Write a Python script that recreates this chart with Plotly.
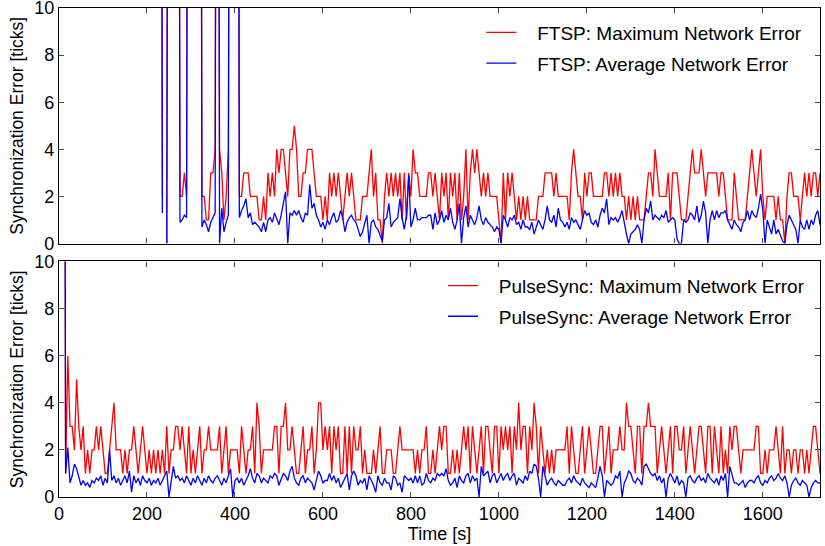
import plotly.graph_objects as go

# ---------------- data ----------------
# FTSP: samples every 5 s starting at t = 230 s (None = no data, 50 = off-scale value)
ftsp_start, ftsp_step = 230, 5
ftsp_max = [50, 2, None, 0, 50, None, None, None, 50, 2, 2, 3, 2, 50, None, None, None, None,
            50, 2, 2, 1, 1, 3, 3, 4, 50, 4, 3, 1, 2, 4, 50, None, None, 50, 2, 2, 3, 3, 3, 2,
            2, 2, 2, 1, 1, 2, 1, 3, 2, 3,
            2, 4, 3, 4, 4, 3, 2, 4, 4, 5,
            4, 2, 2, 3, 3, 4, 4, 4, 3, 2,
            2, 2, 1, 2, 1, 3, 2, 3, 2, 3,
            2, 1, 2, 3, 2, 3, 2, 1, 1, 1,
            2, 2, 2, 3, 4,
            2, 3, 1, 1, 0, 2, 3, 2, 3, 2,
            3, 2, 3, 1, 3, 1, 3, 2, 4, 3,
            3, 2, 2, 2, 2, 3, 3, 2, 3, 2,
            1, 3, 2, 3, 1, 3, 2, 3, 1, 3,
            1, 2, 4, 1, 3, 4, 3, 4, 3, 2,
            3, 2, 3, 2, 2, 2, 2, 1, 0, 3,
            1, 3, 2, 3, 2, 1, 2, 1, 2, 1,
            2, 1, 1, 1, 1, 2, 2, 2, 3, 3,
            3, 3, 2, 3, 2, 2, 2, 2, 2, 1,
            3, 4, 3, 2, 2, 1, 3, 2, 3,
            3, 2, 2, 2, 2, 2, 3, 3, 2, 3,
            2, 3, 2, 3, 2, 2, 1, 2, 1, 2,
            1, 2, 1, 1, 1, 2, 3, 3, 2, 4,
            3, 2, 2, 2, 2, 3, 1, 3, 3, 3,
            2, 1, 1, 1, 2, 3, 4, 3, 3, 3,
            4, 3, 2, 3, 3, 3, 3, 3, 2, 3,
            3, 2, 1, 1, 1, 3, 2, 1, 1, 1,
            1, 2, 3, 4, 3, 2, 3, 4, 2, 1,
            2, 2, 2, 2, 1, 2, 1, 1, 0, 2,
            3, 3, 2, 2, 2, 1, 2, 3, 2, 3,
            2, 3, 3, 2, 3]
ftsp_avg = [50, 1.3, None, 0, 50, None, None, None, 50, 0.9, 1.0, 1.2, 1.1, 50, None, None, None, None,
            50, 0.7, 1.0, 0.8, 0.5, 0.9, 1.1, 1.3, 50, 0, 1.5, 0.5, 0.9, 1.2, 50, None, None, 50, 1.1, 1.4, 1.6, 1.9, 1.1, 1.3,
            0.8, 0.9, 0.8, 0.7, 0.5, 0.9, 0.5, 1.0, 1.1, 0.9,
            1.3, 1.0, 0.8, 1.2, 1.8, 2.2, 0, 1.3, 1.2, 1.4,
            1.2, 1.4, 1.1, 0.9, 1.3, 1.2, 2.5, 1.5, 1.7, 1.2,
            1.0, 0.7, 0.9, 0.6, 1.0, 0.8, 1.1, 1.3, 0.9, 1.0,
            1.4, 1.1, 0.5, 0.9, 1.1, 1.2, 1.0, 0.9, 0.6, 0.3,
            0.5, 0.9, 1.2, 0, 0.9,
            1.0, 0.7, 0.6, 0.3, 0.1, 1.0, 1.1, 1.7, 0.7, 0.9,
            1.0, 1.1, 1.9, 1.1, 0.6, 1.2, 2.9, 0.7, 1.0, 1.5,
            1.0, 1.0, 1.1, 1.1, 1.1, 1.2, 1.2, 0.6, 1.3, 0.8,
            1.0, 1.4, 0.9, 1.2, 1.0, 1.5, 0.9, 0.6, 1.0, 1.7,
            0, 1.1, 1.6, 0.7, 1.2, 1.0, 0.8, 1.1, 1.6, 1.0,
            0.8, 1.1, 0.9, 0.8, 0.7, 0.5, 0.7, 0.6, 0, 1.2,
            1.0, 0.7, 1.1, 1.0, 1.2, 0.8, 0.9, 0.6, 1.0, 0.7,
            0.7, 0.6, 0.9, 0.4, 0.7, 1.0, 0.8, 0.6, 1.0, 1.6,
            1.0, 0.9, 1.2, 0.7, 1.5, 1.0, 0.9, 0.7, 0.9, 0.6,
            1.1, 0.9, 1.0, 0.8, 0.6, 1.0, 1.4, 1.2, 1.3,
            0.9, 0.8, 1.0, 0.7, 1.2, 1.5, 1.3, 1.9, 0.8, 1.1,
            1.0, 1.1, 0.9, 1.1, 1.4, 0.8, 0.4, 0, 0.4, 0.5,
            0.6, 0.8, 0.6, 0, 1.0, 1.5, 1.3, 1.8, 1.0, 1.2,
            1.1, 1.0, 1.2, 1.1, 1.4, 0.9, 1.0, 1.1, 1.0, 0.2,
            0, 0, 1.0, 0.9, 1.0, 1.3, 1.2, 1.0, 1.6, 0.9,
            1.2, 1.8, 1.3, 0, 1.0, 1.4, 1.0, 1.4, 1.1, 1.3,
            1.3, 1.4, 1.0, 0.8, 0.6, 1.0, 0.8, 0.7, 0.5, 0.9,
            1.0, 1.4, 1.0, 1.4, 1.2, 1.1, 1.5, 2.1, 1.4, 0,
            1.0, 0.7, 0.4, 1.0, 0.4, 0.6, 0.3, 0.1, 0, 0.8,
            1.2, 1.0, 0.8, 0.6, 0, 1.0, 0.7, 0.6, 1.0, 0.6,
            1.0, 0.8, 1.2, 1.4, 0.8]

# PulseSync: samples every 5 s starting at t = 10 s
pulse_start, pulse_step = 10, 5
pulse_max = [50, 1, 6, 3, 3, 2, 5, 3, 2, 3, 1, 2, 1, 2, 2, 3, 2, 3, 2, 1,
             1, 2, 3, 4, 2, 2, 2, 1, 2, 1, 2, 2, 3, 2, 1, 2, 3, 2, 1, 2,
             1, 2, 1, 2, 1, 2, 1, 3, 1, 2, 2, 3, 3, 2, 3, 2, 1, 3, 1, 2,
             1, 2, 3, 1, 2, 2, 3, 2, 2, 2, 2, 3, 1, 2, 3, 1, 2, 2, 2, 2,
             1, 3, 2, 1, 2, 2, 3, 1, 4, 3, 1, 2, 2, 2, 2, 2, 3, 3, 1, 3,
             3, 4, 2, 2, 3, 2, 1, 1, 2, 3, 1, 2, 2, 3, 1, 2, 4, 4, 2, 3,
             2, 3, 1, 3, 2, 3, 1, 1, 3, 1, 3, 1, 3, 2, 2, 3, 1, 2, 1, 1,
             1, 2, 1, 2, 3, 1, 1, 2, 2, 2, 1, 1, 2, 3, 2, 2, 2, 2, 2, 2,
             1, 2, 1, 2, 2, 3, 1, 1, 2, 1, 2, 3, 2, 3, 3, 1, 1, 2, 1, 2,
             1, 2, 3, 2, 3, 1, 3, 2, 1, 2, 3, 1, 3, 3, 2, 1, 3, 3, 1, 3,
             2, 3, 2, 3, 1, 3, 2, 4, 2, 3, 3, 1, 3, 2, 4, 3, 1, 3, 2, 1,
             2, 1, 2, 1, 2, 2, 2, 2, 2, 3, 1, 3, 2, 1, 1, 2, 3, 1, 2, 3,
             2, 1, 1, 2, 3, 3, 1, 2, 3, 1, 2, 2, 2, 3, 2, 2, 4, 3, 3, 2,
             1, 3, 3, 1, 3, 3, 4, 3, 3, 3, 1, 2, 3, 2, 1, 2, 3, 1, 3, 3,
             2, 2, 3, 1, 2, 3, 2, 1, 2, 3, 3, 2, 1, 3, 3, 1, 3, 2, 1, 3,
             1, 2, 1, 3, 2, 3, 3, 2, 1, 2, 2, 2, 2, 2, 2, 3, 3, 1, 1, 2,
             1, 2, 2, 2, 3, 2, 1, 3, 1, 2, 2, 1, 2, 2, 1, 2, 2, 1, 2, 1,
             2, 3, 3, 2, 1]
pulse_avg = [50, 1.0, 2.1, 0.6, 0.9, 1.4, 1.2, 0.8, 0.5, 0.7, 0.5, 0.6, 0.4, 0.7, 0.6, 0.8, 0.7, 0.9, 0.5, 0.8,
             0.6, 2.0, 0.7, 0.9, 0.6, 0.8, 0.5, 0.7, 0.9, 0.6, 1.1, 0.2, 0.9, 0.6, 0.8, 0.5, 0.9, 0.7, 0.6, 0.8,
             0.5, 0.7, 0.6, 0.8, 0.5, 0.7, 0.9, 1.1, 0, 0.6, 1.3, 0.8, 0.9, 0.7, 0.8, 0.6, 0.9, 0.7, 0.5, 0.8,
             0.6, 0.9, 0.7, 0.5, 0.8, 0.6, 0.9, 0.7, 0.6, 0.8, 0.9, 0.7, 0.5, 0.8, 0.6, 0.9, 1.2, 0, 0.7, 0.8,
             0.6, 0.8, 0.5, 0.7, 0.9, 1.2, 0.8, 0.6, 1.0, 0.9, 0.6, 0.8, 0.7, 0.6, 0.9, 0.8, 1.0, 0.9, 0.5, 0.8,
             1.0, 0.9, 0.7, 1.1, 1.3, 0.8, 0.6, 0.5, 0.8, 0.9, 0.6, 0.8, 0.7, 0.6, 0.3, 0.7, 1.1, 0.9, 0.6, 0.7,
             0.7, 1.0, 0.7, 0.9, 0.6, 0.8, 0.4, 0.6, 0.8, 1.0, 0.3, 0.9, 1.1, 0.9, 0.5, 0.7, 0.6, 0.8, 0.3, 0.9,
             0.7, 0.5, 0.2, 0.9, 0.6, 0.5, 0.8, 0.6, 0.6, 0.3, 0.9, 0.8, 0.5, 0.6, 0.2, 0.9, 0.8, 0.7, 0.8, 0.6,
             0.9, 0.6, 0.9, 0.5, 0.6, 1.0, 0.7, 0.6, 0.8, 0.7, 1.0, 0.9, 1.0, 0.9, 1.2, 0.7, 0.5, 0.6, 0.8, 0.4,
             0.9, 0.7, 0.6, 0.9, 1.0, 0.6, 0.9, 0.7, 0.8, 0, 1.3, 0.9, 1.0, 1.1, 0.6, 0.9, 1.0, 0.6, 0.8, 1.0,
             0.7, 0.9, 1.0, 0.7, 0.9, 1.0, 0.5, 0.8, 0.7, 0.6, 0.9, 0.7, 1.1, 1.0, 1.4, 1.3, 0.8, 0, 1.3, 0.9,
             0.5, 0.7, 0.8, 0.6, 0.5, 0.7, 0.6, 0.5, 0.5, 0.7, 0.8, 0.6, 0.9, 0.7, 0.6, 0.5, 0.8, 0.6, 0.5, 0.4,
             0.6, 0.5, 0.4, 0.8, 1.3, 0.9, 0, 0.7, 0.6, 0.5, 0.6, 0.9, 0.8, 1.1, 0, 0.6, 0.8, 1.1, 1.0, 0.7,
             0.6, 0.8, 0.7, 0.5, 1.3, 1.4, 1.2, 1.0, 0.9, 1.0, 0.7, 0.9, 0.6, 0.8, 0, 0.8, 1.0, 0.8, 0.6, 0.9,
             0.5, 0.7, 0.6, 0, 0.8, 0.9, 0.7, 0.6, 0.8, 0.9, 0.7, 0.8, 0.6, 1.0, 0.8, 0.7, 0.6, 0.8, 0.5, 0.9,
             0.7, 1.0, 0, 1.3, 0.9, 0.6, 0.6, 0.5, 0.6, 0.7, 0.4, 0.6, 0.7, 0.7, 0.6, 0.8, 0.9, 0.6, 0.5, 0.7,
             0.6, 0.8, 0.9, 0.7, 0.8, 1.0, 0.8, 0.7, 0.9, 0.6, 0, 0.5, 0.7, 0.8, 0.6, 0.5, 0.7, 0.6, 0.5, 0,
             0.4, 0.6, 0.7, 0.6, 0.6]

x_ticks = [0, 200, 400, 600, 800, 1000, 1200, 1400, 1600]
y_ticks = [0, 2, 4, 6, 8, 10]
x_range = [0, 1730]
y_range = [0, 10]

ftsp_t = [ftsp_start + ftsp_step * i for i in range(len(ftsp_max))]
pulse_t = [pulse_start + pulse_step * i for i in range(len(pulse_max))]

RED = "#ff0000"
BLUE = "#0000ff"
FONT = "Liberation Sans, Arial, Helvetica, sans-serif"
PAD = "\u00a0\u00a0\u00a0"

fig = go.Figure()
fig.add_trace(go.Scatter(x=ftsp_t, y=ftsp_max, mode="lines", line=dict(color=RED, width=1.3),
                         name=PAD + "FTSP: Maximum Network Error", xaxis="x2", yaxis="y2",
                         legend="legend", legendgroup="a", connectgaps=False))
fig.add_trace(go.Scatter(x=ftsp_t, y=ftsp_avg, mode="lines", line=dict(color=BLUE, width=1.3),
                         name=PAD + "FTSP: Average Network Error", xaxis="x2", yaxis="y2",
                         legend="legend", legendgroup="b", connectgaps=False))
fig.add_trace(go.Scatter(x=pulse_t, y=pulse_max, mode="lines", line=dict(color=RED, width=1.3),
                         name=PAD + "PulseSync: Maximum Network Error", xaxis="x", yaxis="y",
                         legend="legend2", legendgroup="c"))
fig.add_trace(go.Scatter(x=pulse_t, y=pulse_avg, mode="lines", line=dict(color=BLUE, width=1.3),
                         name=PAD + "PulseSync: Average Network Error", xaxis="x", yaxis="y",
                         legend="legend2", legendgroup="d"))

axis_common = dict(showline=True, linecolor="black", linewidth=1.3, mirror="allticks",
                   ticks="inside", ticklen=5, tickwidth=1, tickcolor="#444",
                   showgrid=False, zeroline=False, automargin=False,
                   ticklabeloverflow="allow",
                   tickfont=dict(family=FONT, size=18, color="black"))

fig.update_layout(
    width=825, height=546,
    margin=dict(l=59, r=5, t=8, b=49, autoexpand=False),
    plot_bgcolor="white", paper_bgcolor="white",
    font=dict(family=FONT, size=18, color="black"),
    xaxis=dict(domain=[0, 1], anchor="y", range=x_range, tickvals=x_ticks,
               title=dict(text="Time [s]", font=dict(family=FONT, size=18), standoff=0),
               **axis_common),
    xaxis2=dict(domain=[0, 1], anchor="y2", range=x_range, tickvals=x_ticks,
                showticklabels=False, matches="x", **axis_common),
    yaxis=dict(domain=[0, 0.4816], anchor="x", range=y_range, tickvals=y_ticks,
               title=dict(text="Synchronization Error [ticks]", font=dict(family=FONT, size=17.5), standoff=6),
               **axis_common),
    yaxis2=dict(domain=[0.5184, 1], anchor="x2", range=y_range, tickvals=y_ticks,
                title=dict(text="Synchronization Error [ticks]", font=dict(family=FONT, size=17.5), standoff=6),
                **axis_common),
    legend=dict(x=0.555, y=0.9886, xanchor="left", yanchor="top", bgcolor="rgba(0,0,0,0)",
                font=dict(family=FONT, size=19), tracegroupgap=3, traceorder="grouped"),
    legend2=dict(x=0.5046, y=0.471, xanchor="left", yanchor="top", bgcolor="rgba(0,0,0,0)",
                 font=dict(family=FONT, size=19), tracegroupgap=3, traceorder="grouped"),
    showlegend=True,
)

fig.write_html("out.html")
